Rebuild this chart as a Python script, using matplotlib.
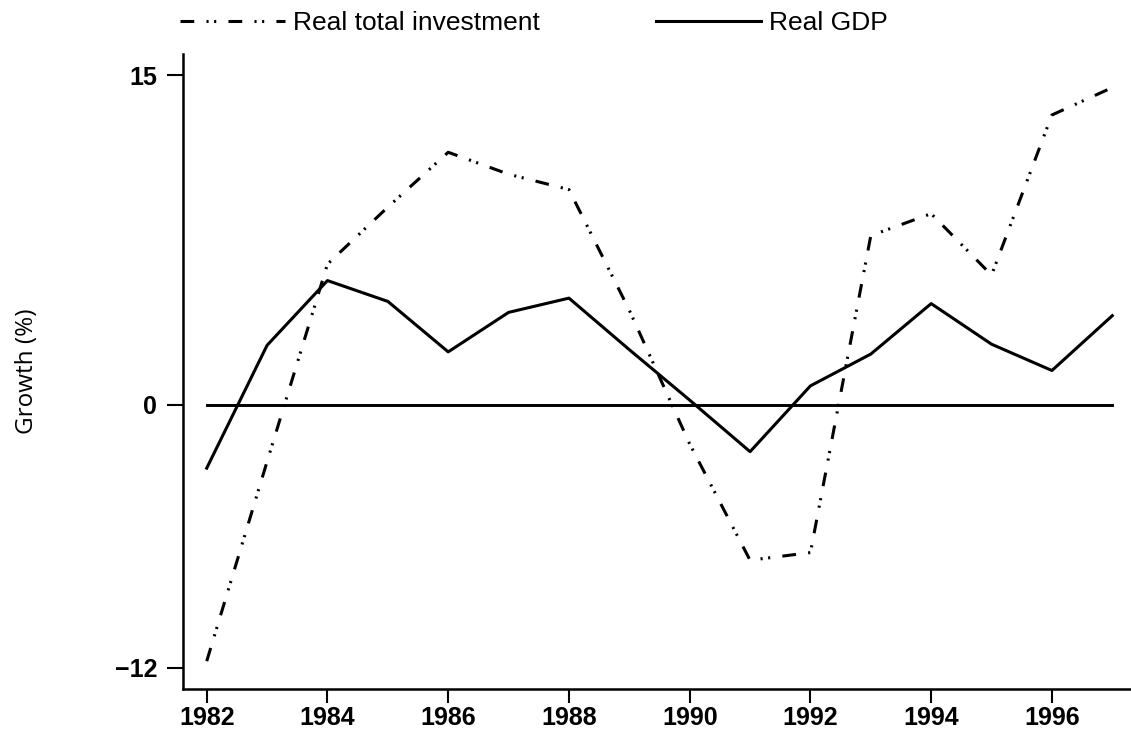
import matplotlib as mpl
import matplotlib.pyplot as plt
import numpy as np

mpl.rcParams['font.family'] = ['Liberation Sans', 'DejaVu Sans']

years = list(range(1982, 1998))
gdp = [-2.9, 2.7, 5.65, 4.7, 2.4, 4.2, 4.85, 2.5, 0.2, -2.15, 0.85, 2.3, 4.6, 2.75, 1.55, 4.05]
investment = [-11.7, -2.6, 6.4, 9.0, 11.5, 10.5, 9.8, 4.3, -1.8, -7.1, -6.75, 7.7, 8.7, 5.9, 13.2, 14.45]
labels = ['Real total investment', 'Real GDP']
xticks = list(range(1982, 1997, 2))
yticks = [-12, 0, 15]

W, H = 1131, 739
fig = plt.figure(figsize=(W / 100, H / 100), dpi=100)
ax = fig.add_axes([183 / W, 1 - 689 / H, (W - 183) / W, (689 - 54) / H])

# zero reference line across the data range
ax.plot([years[0], years[-1]], [0, 0], color='black', lw=2.1)

inv_line, = ax.plot(years, investment, color='black', lw=2.2,
                    linestyle=(0, (4.5, 4, 0.7, 1.8, 0.7, 4)))
gdp_line, = ax.plot(years, gdp, color='black', lw=2.2)

ax.set_xlim(1981.607, 1997.31)
ax.set_ylim(-12.97, 15.98)
ax.set_xticks(xticks)
ax.set_yticks(yticks)
ax.set_yticklabels(['\u221212', '0', '15'])

for side in ['top', 'right']:
    ax.spines[side].set_visible(False)
for side in ['left', 'bottom']:
    ax.spines[side].set_linewidth(1.8)

ax.tick_params(axis='both', direction='out', width=1.5, labelsize=18)
ax.tick_params(axis='y', length=11.5, pad=7)
ax.tick_params(axis='x', length=10, pad=2)
for lab in ax.get_xticklabels() + ax.get_yticklabels():
    lab.set_fontweight('bold')

ax.set_ylabel('Growth (%)', fontsize=17.5, family=['Open Sans', 'DejaVu Sans'])
ax.yaxis.set_label_coords(-0.152, 0.5)

fig.legend([inv_line, gdp_line], labels, loc='upper left',
           bbox_to_anchor=(180 / W, 1 - 11 / H), ncol=2, frameon=False,
           fontsize=19, handlelength=3.98, handletextpad=0.3,
           columnspacing=4.4, borderpad=0, borderaxespad=0)

fig.savefig('out.png', dpi=100)
